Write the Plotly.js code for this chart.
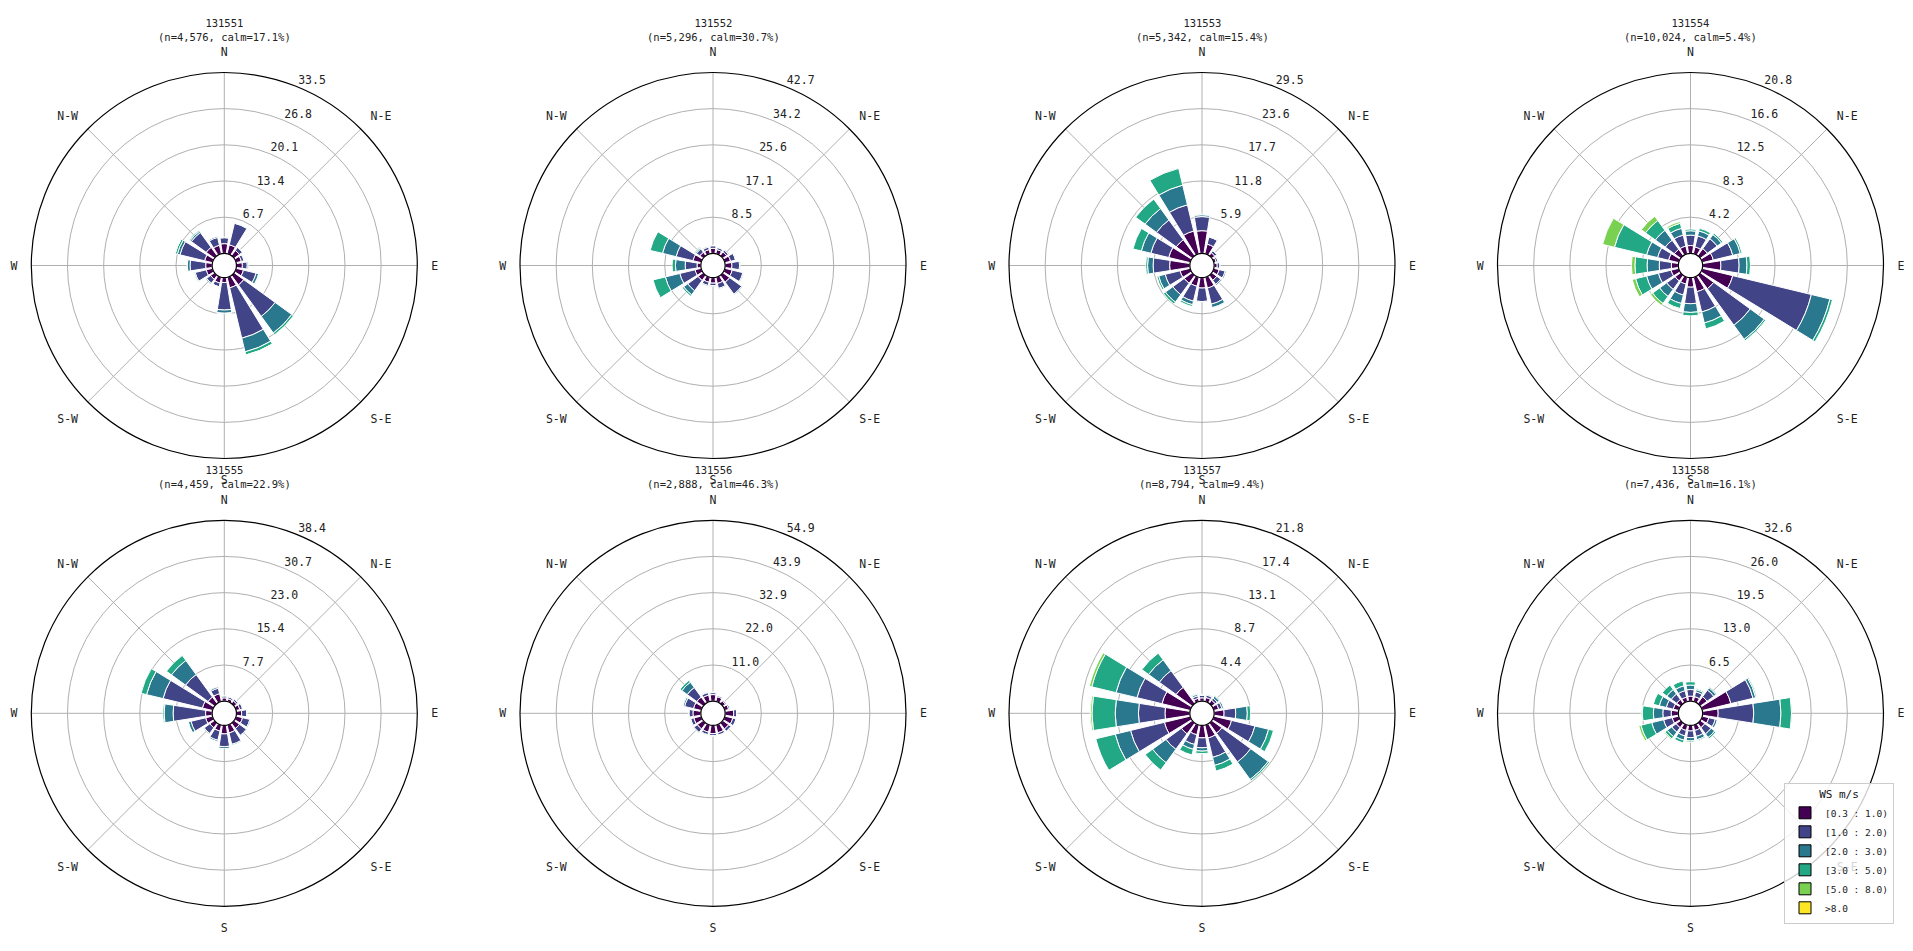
<!DOCTYPE html>
<html><head><meta charset="utf-8">
<script src="https://cdn.plot.ly/plotly-3.0.1.min.js"></script>
<style>html,body{margin:0;padding:0;background:#fff}#chart{width:1913px;height:951px}</style>
</head><body><div id="chart"></div>
<script>
// ---- data ----
const directions = [0, 22.5, 45, 67.5, 90, 112.5, 135, 157.5, 180, 202.5, 225, 247.5, 270, 292.5, 315, 337.5];
const compassTicks = [0, 45, 90, 135, 180, 225, 270, 315];
const compassLabels = ['N', 'N-E', 'E', 'S-E', 'S', 'S-W', 'W', 'N-W'];
const speedBins = ['[0.3 : 1.0)', '[1.0 : 2.0)', '[2.0 : 3.0)', '[3.0 : 5.0)', '[5.0 : 8.0)', '>8.0'];
const stations = ['131551', '131552', '131553', '131554', '131555', '131556', '131557', '131558'];
const counts = ['4,576', '5,296', '5,342', '10,024', '4,459', '2,888', '8,794', '7,436'];
const calmPct = ['17.1', '30.7', '15.4', '5.4', '22.9', '46.3', '9.4', '16.1'];
const radialMax = [33.5, 42.7, 29.5, 20.8, 38.4, 54.9, 21.8, 32.56];
const radialTickLabels = [
  ['6.7', '13.4', '20.1', '26.8', '33.5'],
  ['8.5', '17.1', '25.6', '34.2', '42.7'],
  ['5.9', '11.8', '17.7', '23.6', '29.5'],
  ['4.2', '8.3', '12.5', '16.6', '20.8'],
  ['7.7', '15.4', '23.0', '30.7', '38.4'],
  ['11.0', '22.0', '32.9', '43.9', '54.9'],
  ['4.4', '8.7', '13.1', '17.4', '21.8'],
  ['6.5', '13.0', '19.5', '26.0', '32.6']
];
const radialLabelDirection = 22.5;
// frequency (%) per speed bin (rows) and direction (columns: N, NNE, NE, ... NNW)
const st131551 = [
  [1.8, 1.7, 1.2, 1.0, 1.1, 1.4, 2.2, 2.0, 0.9, 1.1, 0.9, 1.2, 1.2, 1.5, 1.9, 1.6],
  [1.1, 4.1, 0.7, 0.5, 0.9, 2.4, 7.2, 9.6, 5.1, 0.7, 0.9, 2.1, 2.9, 4.7, 3.4, 1.5],
  [0.1, 0.1, 0.1, 0.1, 0.2, 0.5, 3.8, 2.6, 0.6, 0.1, 0.2, 0.2, 0.5, 0.5, 0.3, 0.2],
  [0.0, 0.0, 0.0, 0.0, 0.0, 0.1, 0.4, 0.6, 0.1, 0.0, 0.0, 0.1, 0.1, 0.4, 0.2, 0.0],
  [0.0, 0.0, 0.0, 0.0, 0.0, 0.0, 0.0, 0.1, 0.0, 0.0, 0.0, 0.0, 0.0, 0.1, 0.0, 0.0],
  [0, 0, 0, 0, 0, 0, 0, 0, 0, 0, 0, 0, 0, 0, 0, 0]
];
const st131552 = [
  [1.2, 1.0, 1.1, 1.4, 1.6, 1.8, 2.0, 1.5, 1.3, 1.2, 1.5, 1.5, 0.9, 2.0, 1.0, 1.0],
  [0.6, 0.5, 0.5, 1.2, 1.8, 2.6, 3.5, 1.2, 0.6, 0.8, 3.0, 3.7, 2.8, 4.1, 1.0, 0.6],
  [0.1, 0.1, 0.2, 0.1, 0.2, 0.2, 0.2, 0.2, 0.1, 0.2, 1.2, 3.5, 2.3, 3.3, 0.3, 0.2],
  [0.0, 0.0, 0.0, 0.0, 0.0, 0.0, 0.0, 0.0, 0.0, 0.0, 0.4, 3.0, 0.8, 3.0, 0.2, 0.0],
  [0, 0, 0, 0, 0, 0, 0, 0, 0, 0, 0, 0, 0, 0, 0, 0],
  [0, 0, 0, 0, 0, 0, 0, 0, 0, 0, 0, 0, 0, 0, 0, 0]
];
const st131553 = [
  [3.7, 1.6, 0.6, 0.4, 0.5, 0.9, 1.0, 1.8, 1.7, 1.5, 1.6, 1.7, 3.3, 3.6, 3.2, 3.8],
  [2.3, 1.2, 0.4, 0.3, 0.4, 1.0, 0.8, 2.7, 2.2, 2.5, 2.3, 2.5, 2.7, 3.0, 4.0, 4.4],
  [0.3, 0.1, 0.1, 0.1, 0.1, 0.2, 0.2, 0.6, 0.1, 0.6, 1.5, 1.1, 0.9, 1.6, 2.3, 3.3],
  [0.1, 0.0, 0.0, 0.0, 0.0, 0.0, 0.0, 0.1, 0.0, 0.3, 0.4, 0.3, 0.3, 1.4, 1.9, 2.8],
  [0, 0, 0, 0, 0, 0, 0, 0, 0, 0, 0, 0, 0, 0, 0, 0],
  [0, 0, 0, 0, 0, 0, 0, 0, 0, 0, 0, 0, 0, 0, 0, 0]
];
const st131554 = [
  [0.9, 0.8, 1.0, 1.3, 2.1, 3.6, 1.9, 1.7, 1.1, 0.8, 0.8, 0.9, 0.8, 1.2, 0.9, 0.9],
  [1.2, 1.3, 1.4, 2.3, 2.1, 9.3, 5.2, 2.4, 1.9, 1.3, 1.2, 1.5, 1.4, 1.3, 1.3, 1.3],
  [0.5, 0.6, 0.6, 0.9, 0.9, 2.2, 2.0, 1.3, 1.0, 1.0, 1.0, 1.4, 1.4, 1.3, 1.4, 0.8],
  [0.2, 0.3, 0.2, 0.2, 0.4, 0.3, 0.2, 0.7, 0.4, 0.6, 1.0, 1.3, 1.4, 3.8, 1.4, 0.6],
  [0.0, 0.0, 0.0, 0.0, 0.0, 0.0, 0.0, 0.0, 0.0, 0.1, 0.3, 0.4, 0.4, 1.4, 0.6, 0.2],
  [0, 0, 0, 0, 0, 0, 0, 0, 0, 0, 0, 0, 0, 0, 0, 0]
];
const st131555 = [
  [0.7, 0.6, 0.7, 0.8, 1.1, 1.4, 1.4, 1.7, 1.8, 1.3, 1.2, 1.5, 1.4, 2.2, 1.7, 1.7],
  [0.4, 0.4, 0.4, 0.6, 1.1, 1.6, 1.8, 2.5, 2.7, 2.0, 1.5, 3.2, 6.9, 8.6, 5.9, 1.2],
  [0.1, 0.1, 0.1, 0.1, 0.1, 0.2, 0.2, 0.2, 0.4, 0.3, 0.2, 0.6, 1.9, 3.6, 3.7, 0.3],
  [0.0, 0.0, 0.0, 0.0, 0.0, 0.0, 0.0, 0.0, 0.0, 0.0, 0.0, 0.1, 0.3, 1.2, 1.3, 0.0],
  [0, 0, 0, 0, 0, 0, 0, 0, 0, 0, 0, 0, 0, 0, 0, 0],
  [0, 0, 0, 0, 0, 0, 0, 0, 0, 0, 0, 0, 0, 0, 0, 0]
];
const st131556 = [
  [2.0, 1.5, 1.0, 1.2, 2.6, 2.5, 2.2, 2.4, 2.5, 2.2, 2.2, 2.3, 2.4, 2.4, 2.4, 2.0],
  [0.6, 0.4, 0.3, 0.4, 0.9, 1.0, 0.9, 0.7, 0.6, 0.8, 1.3, 1.0, 1.2, 2.8, 3.6, 0.8],
  [0.2, 0.1, 0.0, 0.0, 0.1, 0.1, 0.1, 0.1, 0.2, 0.2, 0.2, 0.2, 0.2, 0.5, 2.0, 0.2],
  [0.0, 0.0, 0.0, 0.0, 0.0, 0.0, 0.0, 0.0, 0.0, 0.0, 0.0, 0.0, 0.0, 0.2, 0.7, 0.0],
  [0, 0, 0, 0, 0, 0, 0, 0, 0, 0, 0, 0, 0, 0, 0, 0],
  [0, 0, 0, 0, 0, 0, 0, 0, 0, 0, 0, 0, 0, 0, 0, 0]
];
const st131557 = [
  [0.4, 0.5, 0.5, 0.6, 1.2, 2.2, 1.5, 1.6, 1.5, 1.2, 1.6, 3.2, 3.0, 3.5, 2.4, 0.4],
  [0.3, 0.3, 0.3, 0.4, 1.4, 2.9, 4.3, 2.4, 1.2, 1.2, 2.3, 4.2, 3.2, 3.1, 2.5, 0.3],
  [0.1, 0.1, 0.3, 0.2, 1.4, 1.7, 2.6, 1.0, 0.4, 0.6, 2.0, 1.9, 2.8, 2.6, 1.6, 0.2],
  [0.0, 0.0, 0.1, 0.0, 0.4, 0.6, 0.2, 0.7, 0.3, 0.7, 1.1, 2.4, 2.8, 3.0, 1.0, 0.1],
  [0.0, 0.0, 0.0, 0.0, 0.0, 0.0, 0.0, 0.0, 0.0, 0.0, 0.0, 0.0, 0.2, 0.3, 0.0, 0.0],
  [0, 0, 0, 0, 0, 0, 0, 0, 0, 0, 0, 0, 0, 0, 0, 0]
];
const st131558 = [
  [0.9, 0.9, 1.5, 5.3, 2.8, 1.2, 1.0, 1.0, 1.0, 1.0, 1.0, 1.2, 1.3, 1.0, 0.9, 0.8],
  [1.2, 0.9, 1.5, 4.1, 6.4, 1.2, 1.4, 1.1, 1.2, 1.0, 1.0, 1.6, 1.5, 1.3, 1.2, 1.2],
  [0.8, 0.4, 0.5, 0.5, 4.9, 0.4, 0.8, 0.6, 0.6, 0.8, 1.0, 2.2, 1.7, 1.3, 1.0, 0.9],
  [0.6, 0.2, 0.2, 0.2, 1.9, 0.1, 0.3, 0.2, 0.2, 0.5, 0.5, 2.0, 2.0, 1.1, 1.0, 0.9],
  [0.0, 0.0, 0.0, 0.0, 0.0, 0.0, 0.0, 0.0, 0.0, 0.0, 0.2, 0.4, 0.2, 0.0, 0.0, 0.0],
  [0, 0, 0, 0, 0, 0, 0, 0, 0, 0, 0, 0, 0, 0, 0, 0]
];
const stationData = [st131551, st131552, st131553, st131554, st131555, st131556, st131557, st131558];

// ---- styles ----
const binColors = ['#440154', '#414487', '#2a788e', '#22a884', '#7ad151', '#fde725'];
const W = 1913, H = 951, R = 193;
const colCenters = [224.3, 713, 1202, 1690.5];
const rowCenters = [265.5, 713.3];
const monoFont = 'DejaVu Sans Mono, monospace';

const traces = [];
const layout = {
  width: W, height: H,
  margin: {l: 0, r: 0, t: 0, b: 0},
  paper_bgcolor: 'white',
  showlegend: true,
  legend: {
    x: 1784 / W, y: 1 - 783 / H, xanchor: 'left', yanchor: 'top',
    bgcolor: 'rgba(255,255,255,0.8)', bordercolor: '#cccccc', borderwidth: 1,
    font: {family: monoFont, size: 9.5, color: '#222'},
    title: {text: 'WS m/s', side: 'top center', font: {family: monoFont, size: 11, color: '#111'}},
    itemwidth: 30, tracegroupgap: 0
  },
  annotations: []
};

stationData.forEach((rows, p) => {
  const sub = p === 0 ? 'polar' : 'polar' + (p + 1);
  const cx = colCenters[p % 4], cy = rowCenters[Math.floor(p / 4)];
  rows.forEach((vals, b) => {
    traces.push({
      type: 'barpolar', subplot: sub,
      r: vals, theta: directions, width: 18,
      name: speedBins[b], showlegend: false, hoverinfo: 'r+theta+name',
      marker: {color: binColors[b], line: {color: 'white', width: 1}}
    });
  });
  const rmax = radialMax[p];
  const tickVals = [1, 2, 3, 4, 5].map(k => rmax * k / 5);
  // radial labels, anchored bottom-left at each ring along the 22.5° line
  traces.push({
    type: 'scatterpolar', subplot: sub, mode: 'text',
    r: tickVals, theta: tickVals.map(() => radialLabelDirection),
    text: radialTickLabels[p], textposition: 'top right',
    textfont: {family: monoFont, size: 11.5, color: '#222'},
    showlegend: false, hoverinfo: 'skip', cliponaxis: false
  });
  layout[sub] = {
    domain: {x: [(cx - R) / W, (cx + R) / W], y: [1 - (cy + R) / H, 1 - (cy - R) / H]},
    hole: 0.063,
    barmode: 'stack',
    bgcolor: 'white',
    radialaxis: {
      range: [0, rmax],
      tickmode: 'array', tickvals: tickVals,
      showticklabels: false,
      angle: 67.5, showline: false, ticks: '',
      gridcolor: '#b0b0b0', gridwidth: 1
    },
    angularaxis: {
      direction: 'clockwise', rotation: 90,
      tickmode: 'array', tickvals: compassTicks, ticktext: compassLabels,
      gridcolor: '#b0b0b0', gridwidth: 1,
      showline: true, linecolor: 'black', linewidth: 1.2,
      ticks: 'outside', ticklen: 11, tickcolor: 'rgba(0,0,0,0)',
      tickfont: {family: monoFont, size: 11.5, color: '#222'}
    }
  };
  layout.annotations.push({
    xref: 'paper', yref: 'paper', x: cx / W, y: 1 - (cy - 236) / H,
    xanchor: 'center', yanchor: 'middle', showarrow: false,
    text: stations[p] + '<br>(n=' + counts[p] + ', calm=' + calmPct[p] + '%)',
    font: {family: monoFont, size: 10.5, color: '#222'}
  });
});

// legend entries (black-edged swatches like the reference legend)
speedBins.forEach((lab, b) => {
  traces.push({
    type: 'barpolar', subplot: 'polar8', r: [null], theta: [0], width: 18,
    name: lab, showlegend: true, hoverinfo: 'skip',
    marker: {color: binColors[b], line: {color: 'black', width: 1}}
  });
});

Plotly.newPlot('chart', traces, layout, {staticPlot: true});
</script>
</body></html>
